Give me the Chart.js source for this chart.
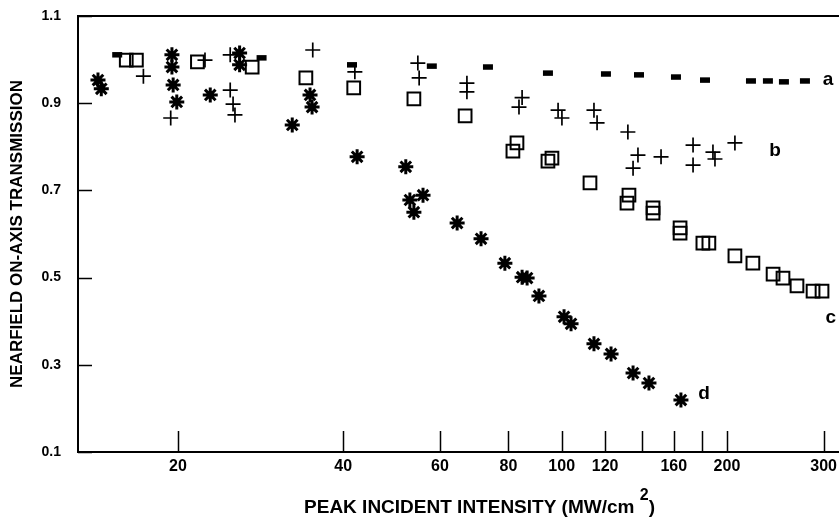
<!DOCTYPE html>
<html>
<head>
<meta charset="utf-8">
<script src="https://cdn.jsdelivr.net/npm/chart.js@4/dist/chart.umd.min.js"></script>
<style>
  html, body { margin: 0; padding: 0; background: #fff; }
  canvas { display: block; }
</style>
</head>
<body>
<canvas id="chart" width="839" height="518"></canvas>
<script>
// [intensity MW/cm2, on-axis transmission] for each sample
const seriesA = [
  [15.5, 1.011], [28.4, 1.004], [41.5, 0.988], [58.0, 0.985], [73.4, 0.983],
  [94.4, 0.969], [120.4, 0.967], [138.3, 0.965], [161.5, 0.960], [182.4, 0.953],
  [221.2, 0.951], [237.5, 0.951], [254, 0.949], [277.4, 0.951]
];
const seriesB = [
  [17.3, 0.962], [19.4, 0.866], [22.4, 0.999], [24.9, 1.011], [24.9, 0.930],
  [25.2, 0.898], [25.4, 0.873], [35.2, 1.022], [42.0, 0.972], [54.7, 0.992],
  [55.0, 0.958], [67.2, 0.946], [67.2, 0.926], [84.7, 0.913], [83.6, 0.891],
  [98.5, 0.884], [100.1, 0.866], [114.5, 0.884], [116, 0.855], [132, 0.834],
  [137.7, 0.781], [134.9, 0.751], [151.7, 0.777], [173.5, 0.804], [173.5, 0.758],
  [188.6, 0.788], [190.2, 0.772], [206.8, 0.809]
];
const seriesC = [
  [16.1, 0.999], [16.8, 0.999], [21.7, 0.995], [27.3, 0.983], [34.2, 0.958],
  [41.8, 0.935], [53.8, 0.910], [66.7, 0.871], [82.9, 0.809], [81.5, 0.790],
  [96.0, 0.774], [94.4, 0.767], [112.6, 0.717], [132.6, 0.689], [131.5, 0.671],
  [146.7, 0.660], [146.7, 0.648], [164.3, 0.614], [164.3, 0.602], [180.8, 0.579],
  [185.4, 0.579], [206.8, 0.550], [223, 0.533], [242.7, 0.508], [253, 0.499],
  [268.3, 0.481], [287, 0.469], [298, 0.469]
];
const seriesD = [
  [14.3, 0.953], [14.5, 0.933], [19.5, 1.011], [19.5, 0.983], [19.6, 0.942],
  [19.9, 0.903], [22.9, 0.919], [25.9, 1.015], [25.9, 0.988], [32.3, 0.850],
  [34.8, 0.919], [35.1, 0.891], [42.4, 0.777], [52.0, 0.754], [52.9, 0.678],
  [55.9, 0.689], [53.8, 0.650], [64.5, 0.625], [71.3, 0.589], [78.8, 0.533],
  [84.7, 0.501], [86.5, 0.499], [90.9, 0.458], [101, 0.410], [104, 0.394],
  [114.5, 0.348], [123, 0.325], [134.9, 0.281], [144.2, 0.258], [164.9, 0.219]
];
const seriesNames = ['a', 'b', 'c', 'd'];

const xTicks = [20, 40, 60, 80, 100, 120, 140, 160, 180, 200, 300];
const xTickLabels = ['20', '40', '60', '80', '100', '120', '', '160', '', '200', '300'];
const yTicks = [0.1, 0.3, 0.5, 0.7, 0.9, 1.1];

const FONT = "'Liberation Sans', Arial, Helvetica, sans-serif";

// letter tags next to each curve, placed in data units
const tagAnchors = [[305.6, 0.942], [244.6, 0.779], [309, 0.396], [181.6, 0.222]];

const toPoints = pts => pts.map(([x, y]) => ({ x, y }));

const decorations = {
  id: 'decorations',
  beforeDatasetsDraw(chart) {
    const { ctx, chartArea, scales: { x, y } } = chart;
    ctx.save();
    ctx.strokeStyle = '#000';
    // frame top edge
    ctx.lineWidth = 2;
    ctx.beginPath();
    ctx.moveTo(chartArea.left - 1, chartArea.top);
    ctx.lineTo(chartArea.right, chartArea.top);
    ctx.stroke();
    // inward tick marks
    ctx.lineWidth = 1.5;
    ctx.beginPath();
    xTicks.forEach(v => {
      const px = Math.round(x.getPixelForValue(v)) + 0.5;
      ctx.moveTo(px, chartArea.bottom);
      ctx.lineTo(px, chartArea.bottom - 21);
    });
    yTicks.forEach(v => {
      const py = Math.round(y.getPixelForValue(v)) + 0.5;
      ctx.moveTo(chartArea.left, py);
      ctx.lineTo(chartArea.left + 14, py);
    });
    ctx.stroke();
    ctx.restore();
  },
  afterDraw(chart) {
    const { ctx, scales: { x, y } } = chart;
    ctx.save();
    ctx.fillStyle = '#000';
    ctx.textAlign = 'center';
    ctx.textBaseline = 'alphabetic';
    ctx.font = 'bold 19px ' + FONT;
    seriesNames.forEach((name, i) => {
      const [vx, vy] = tagAnchors[i];
      ctx.fillText(name, x.getPixelForValue(vx), y.getPixelForValue(vy));
    });

    // x axis caption with raised exponent
    const main = 'PEAK INCIDENT INTENSITY (MW/cm ';
    ctx.font = 'bold 19px ' + FONT;
    const wMain = ctx.measureText(main).width;
    const wClose = ctx.measureText(')').width;
    ctx.font = 'bold 16px ' + FONT;
    const wExp = ctx.measureText('2').width;
    const total = wMain + wExp + wClose;
    let cx = (x.left + x.right) / 2 + 21 - total / 2;
    const base = chart.height - 5;
    ctx.textAlign = 'left';
    ctx.font = 'bold 19px ' + FONT;
    ctx.fillText(main, cx, base);
    cx += wMain;
    ctx.font = 'bold 16px ' + FONT;
    ctx.fillText('2', cx, base - 13);
    cx += wExp;
    ctx.font = 'bold 19px ' + FONT;
    ctx.fillText(')', cx, base);
    ctx.restore();
  }
};

const ctx = document.getElementById('chart').getContext('2d');
const chart = new Chart(ctx, {
  type: 'scatter',
  data: {
    datasets: [
      { label: 'a', data: toPoints(seriesA), pointStyle: 'line', pointRadius: 5, borderWidth: 5.5, borderColor: '#000', backgroundColor: '#000' },
      { label: 'b', data: toPoints(seriesB), pointStyle: 'cross', pointRadius: 7.5, borderWidth: 1.7, borderColor: '#000' },
      { label: 'c', data: toPoints(seriesC), pointStyle: 'rect', pointRadius: 9, borderWidth: 2, borderColor: '#000', backgroundColor: 'rgba(0,0,0,0)' },
      { label: 'd', data: toPoints(seriesD), pointStyle: 'star', pointRadius: 7.5, borderWidth: 3, borderColor: '#000' }
    ]
  },
  options: {
    responsive: false,
    animation: false,
    devicePixelRatio: 1,
    layout: { autoPadding: false, padding: { top: 16, right: 0, bottom: 0, left: 0 } },
    plugins: {
      legend: { display: false },
      tooltip: { enabled: false }
    },
    scales: {
      x: {
        type: 'logarithmic',
        min: 13.15,
        max: 320,
        afterBuildTicks: scale => { scale.ticks = xTicks.map(v => ({ value: v })); },
        afterFit: scale => { scale.height = 66; scale.paddingLeft = 0; scale.paddingRight = 0; },
        grid: { display: false, drawTicks: false },
        border: { display: true, color: '#000', width: 2 },
        ticks: {
          autoSkip: false,
          maxRotation: 0,
          padding: 5,
          color: '#000',
          font: { family: FONT, size: 16, weight: 'bold' },
          callback: (value, index) => xTickLabels[index]
        }
      },
      y: {
        min: 0.1,
        max: 1.1,
        afterBuildTicks: scale => { scale.ticks = yTicks.map(v => ({ value: v })); },
        afterFit: scale => { scale.width = 78; scale.paddingTop = 0; scale.paddingBottom = 0; },
        grid: { display: false, drawTicks: false },
        border: { display: true, color: '#000', width: 2 },
        ticks: {
          padding: 17,
          color: '#000',
          font: { family: FONT, size: 14, weight: 'bold' },
          callback: value => value.toFixed(1)
        },
        title: {
          display: true,
          text: 'NEARFIELD ON-AXIS TRANSMISSION',
          color: '#000',
          font: { family: FONT, size: 17, weight: 'bold' },
          padding: { top: 7, bottom: 0 }
        }
      }
    }
  },
  plugins: [decorations]
});
</script>
</body>
</html>
